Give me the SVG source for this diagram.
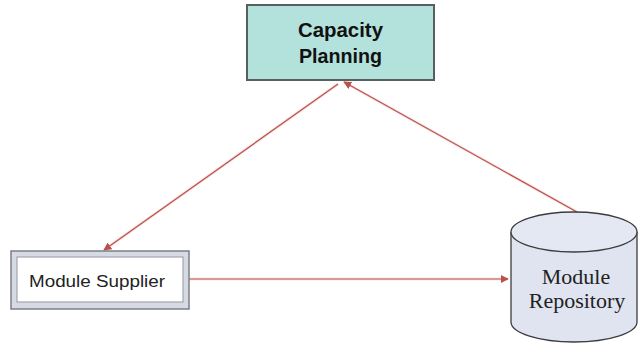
<svg xmlns="http://www.w3.org/2000/svg" width="639" height="344" viewBox="0 0 639 344">
<style>
.edge{fill:none;stroke:#b9504c;stroke-width:1.2}
.glow{fill:none;stroke:#f2c9c6;stroke-width:3;opacity:0.5}
.cap{font-family:"Liberation Sans",Arial,sans-serif;font-weight:bold;font-size:21px;fill:#111;text-anchor:middle}
.sup{font-family:"Liberation Sans",Arial,sans-serif;font-size:16px;fill:#222;text-anchor:middle}
.rep{font-family:"Liberation Serif","Times New Roman",serif;font-size:22px;fill:#222;text-anchor:middle}
</style>
<defs>
<marker id="ah" viewBox="0 0 10 10" refX="9" refY="5" markerWidth="8" markerHeight="8" markerUnits="userSpaceOnUse" orient="auto">
<path d="M0,0 L10,5 L0,10 z" fill="#b9504c"/>
</marker>
</defs>
<rect width="639" height="344" fill="#ffffff"/>
<g id="edges">
<line class="glow" x1="338" y1="84" x2="104" y2="250"/>
<line class="edge" x1="338" y1="84" x2="104" y2="250" marker-end="url(#ah)"/>
<line class="glow" x1="577" y1="212" x2="344" y2="82"/>
<line class="edge" x1="577" y1="212" x2="344" y2="82" marker-end="url(#ah)"/>
<line class="glow" x1="189" y1="279" x2="508" y2="279"/>
<line class="edge" x1="189" y1="279" x2="508" y2="279" marker-end="url(#ah)"/>
</g>
<g id="capacity-planning">
<rect x="247" y="5" width="187" height="75" fill="#b3e1dc" stroke="#55605f" stroke-width="2"/>
<text class="cap" x="340.5" y="37" textLength="85" lengthAdjust="spacingAndGlyphs">Capacity</text>
<text class="cap" x="340.5" y="63" textLength="83" lengthAdjust="spacingAndGlyphs">Planning</text>
</g>
<g id="module-supplier">
<rect x="11" y="251" width="178" height="58" fill="#d6dae3" stroke="#7d7f86" stroke-width="1.5"/>
<rect x="17" y="257" width="166" height="45" fill="#ffffff" stroke="#a3a6ad" stroke-width="1.2"/>
<text class="sup" x="97" y="287" textLength="136" lengthAdjust="spacingAndGlyphs">Module Supplier</text>
</g>
<g id="module-repository">
<path d="M511,232 L511,322 A63,20 0 0 0 637,322 L637,232" fill="#dfe4f0" stroke="#3c3c3c" stroke-width="1.3"/>
<ellipse cx="574" cy="232" rx="63" ry="20" fill="#e4e8f3" stroke="#3c3c3c" stroke-width="1.3"/>
<text class="rep" x="576" y="284">Module</text>
<text class="rep" x="577" y="308">Repository</text>
</g>
</svg>
